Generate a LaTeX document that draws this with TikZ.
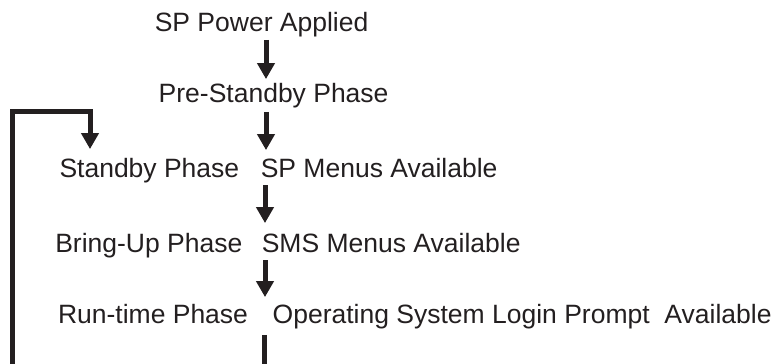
\documentclass[tikz,border=0pt]{standalone}
\usepackage{fontspec}
\setmainfont{Liberation Sans}
\usetikzlibrary{arrows.meta,calc}
\definecolor{ink}{RGB}{35,31,32}
\tikzset{
  txt/.style={anchor=base west, inner sep=0pt, outer sep=0pt, text=ink, font=\fontsize{26.5}{30}\selectfont},
  arr/.style={draw=ink, line width=5pt, -{Triangle[width=17pt,length=16pt]}},
  feedback/.style={draw=ink, line width=5pt, line join=miter, -{Triangle[width=17pt,length=16pt]}}
}
\begin{document}
\begin{tikzpicture}[x=1pt,y=-1pt]
\path[use as bounding box] (0,0) rectangle (774,364);
\clip (0,0) rectangle (774,364);
\node[txt] (power) at (154.8,31) {SP Power Applied};
\node[txt] (pre) at (158.7,102) {Pre-Standby Phase};
\node[txt] (standby) at (59.5,177) {Standby Phase};
\node[txt] (spmenu) at (260.8,177) {SP Menus Available};
\node[txt] (bringup) at (55.3,252) {Bring-Up Phase};
\node[txt] (sms) at (261.8,252) {SMS Menus Available};
\node[txt] (runtime) at (58,323) {Run-time Phase};
\node[txt] (os) at (272.7,323) {Operating System Login Prompt\ \ Available};
\coordinate (c1) at (266,0);
\coordinate (c3) at (265,0);
\coordinate (c5) at (264,0);
\coordinate (c4) at (90,0);
\coordinate (lx) at (12.5,0);
\coordinate (ly) at (0,111.7);
\coordinate (bot) at (0,390);
\draw[arr] ($(power.south -| c1)+(0,3.4)$) -- ($(pre.north -| c1)+(0,-3.7)$);
\draw[arr] ($(pre.south -| c1)+(0,4.4)$) -- ($(spmenu.north -| c1)+(0,-7.7)$);
\draw[arr] ($(spmenu.south -| c3)+(0,8)$) -- ($(sms.north -| c3)+(0,-9.7)$);
\draw[arr] ($(sms.south -| c3)+(0,8)$) -- ($(os.north -| c3)+(0,-6.7)$);
\draw[feedback] ($(os.south -| c5)+(0,6.4)$) -- (c5 |- bot) -- (lx |- bot) -- (lx |- ly) -- (c4 |- ly) -- ($(standby.north -| c4)+(0,-8.7)$);
\end{tikzpicture}
\end{document}
